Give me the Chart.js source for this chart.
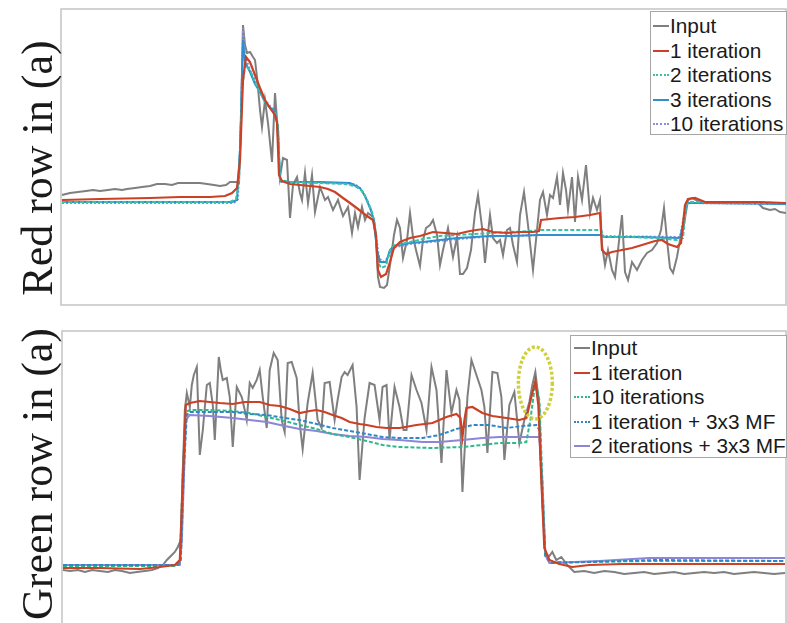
<!DOCTYPE html>
<html>
<head>
<meta charset="utf-8">
<script src="https://cdn.jsdelivr.net/npm/chart.js@4.4.1/dist/chart.umd.min.js"></script>
<style>
html, body { margin: 0; padding: 0; background: #fff; overflow: hidden; }
body { width: 787px; height: 623px; position: relative; }
.panel { position: absolute; left: 0; width: 787px; height: 310px; }
#topPanel { top: 0; }
#bottomPanel { top: 322px; }
.ytitle { position: absolute; width: 320px; height: 44px; line-height: 44px; text-align: center;
  font-family: "Liberation Serif", "Times New Roman", serif; font-size: 44px; color: #1a1a1a;
  transform: rotate(-90deg); white-space: nowrap; }
.legend { position: absolute; background: #fff; border: 1px solid #a6a6a6; box-sizing: border-box;
  font-family: "Liberation Sans", Arial, sans-serif; font-size: 20.8px; color: #1a1a1a; }
.legend .row { height: 24.5px; display: flex; align-items: center; white-space: nowrap; }
.legend .s { display: inline-block; width: 16px; height: 0; margin-right: 1px; }
</style>
</head>
<body>
<div class="panel" id="topPanel"><canvas id="topChart"></canvas></div>
<div class="panel" id="bottomPanel"><canvas id="bottomChart"></canvas></div>
<div class="ytitle" style="left:-122px; top:146px;">Red row in (a)</div>
<div class="ytitle" style="left:-122px; top:452px;">Green row in (a)</div>
<div class="legend" id="topLegend" style="left:650px; top:11px; width:137px; height:124px; padding:2px 0 0 2px;"></div>
<div class="legend" id="bottomLegend" style="left:570px; top:335px; width:217px; height:123px; padding:0 0 0 3px;"></div>
<script>
// column along the image row, and pixel intensity
const topNames = ['Input', '1 iteration', '2 iterations', '3 iterations', '10 iterations'];
const bottomNames = ['Input', '1 iteration', '10 iterations', '1 iteration + 3x3 MF', '2 iterations + 3x3 MF'];

// Red row
const redInput = [[1,110],[9,112],[17,113],[25,114],[32,115],[39,114],[47,115],[54,116],[61,115],[66,116],[74,117],[81,118],[89,119],[96,121],[104,121],[111,120],[117,122],[124,122],[131,122],[139,122],[146,121],[153,120],[159,119],[165,120],[169,123],[175,123],[178,122],[180,185],[182,280],[184,260],[186,252],[189,253],[192,248],[194,245],[196,228],[199,195],[201,178],[204,205],[207,182],[211,143],[214,212],[216,185],[219,128],[222,147],[226,145],[229,87],[232,120],[236,128],[239,112],[241,105],[244,132],[247,102],[251,130],[254,93],[259,118],[264,105],[267,108],[272,95],[277,105],[282,89],[287,98],[291,72],[294,92],[297,78],[301,98],[304,85],[307,92],[312,88],[315,65],[317,28],[319,18],[323,17],[326,20],[329,40],[333,70],[336,85],[339,77],[342,47],[346,65],[349,92],[352,68],[355,55],[359,39],[362,65],[365,77],[369,80],[372,85],[376,70],[379,40],[382,55],[387,77],[392,48],[396,68],[399,31],[402,31],[406,37],[410,55],[414,92],[417,110],[421,78],[424,42],[427,72],[429,90],[432,67],[436,62],[439,65],[442,50],[446,75],[449,77],[452,60],[456,43],[459,90],[463,113],[467,80],[472,35],[475,65],[479,105],[482,113],[486,90],[489,110],[492,107],[496,128],[499,100],[502,132],[505,115],[507,95],[511,128],[514,83],[517,128],[521,105],[525,140],[529,92],[532,107],[536,95],[539,105],[541,60],[544,40],[547,55],[551,35],[554,28],[557,55],[561,90],[564,33],[567,25],[571,43],[576,35],[581,45],[586,52],[591,55],[596,62],[600,75],[603,97],[606,65],[609,37],[612,32],[616,48],[619,65],[622,75],[627,105],[631,107],[639,103],[649,102],[659,103],[669,102],[679,103],[689,102],[696,103],[702,97],[709,95],[714,96],[719,93],[725,92]];
const redIter1 = [[1,105],[39,106],[89,107],[119,108],[149,108],[164,109],[171,112],[176,117],[179,145],[182,225],[185,248],[189,243],[194,230],[199,217],[204,205],[209,197],[214,190],[216,183],[218,130],[221,124],[229,121],[239,120],[249,119],[259,118],[267,116],[274,113],[282,107],[289,102],[297,96],[306,89],[312,85],[315,70],[317,35],[320,28],[325,31],[329,43],[333,57],[339,63],[349,67],[359,69],[372,73],[384,72],[396,71],[409,74],[422,76],[432,73],[446,72],[459,73],[472,73],[478,74],[480,85],[489,86],[499,87],[514,88],[529,90],[539,92],[541,55],[545,51],[551,53],[561,55],[571,57],[581,60],[594,64],[601,65],[607,61],[616,58],[620,62],[624,100],[627,106],[634,107],[644,103],[659,103],[699,103],[725,102]];
const redIter2 = [[1,103],[169,103],[175,106],[178,125],[181,215],[184,240],[189,235],[194,223],[199,213],[204,203],[209,197],[214,193],[217,180],[219,125],[229,123],[259,122],[284,121],[294,119],[301,114],[306,105],[311,93],[314,80],[317,43],[320,37],[325,39],[329,55],[334,60],[349,63],[362,66],[379,69],[396,70],[414,71],[429,72],[449,73],[469,74],[479,75],[540,75],[543,68],[569,68],[596,67],[616,65],[622,67],[625,100],[629,103],[725,102]];
const redIter3 = [[1,103],[171,103],[176,105],[179,155],[182,265],[184,243],[189,233],[194,221],[199,213],[204,203],[209,197],[214,195],[217,175],[219,124],[229,123],[259,123],[289,122],[299,117],[304,109],[309,97],[313,85],[316,55],[319,43],[325,43],[329,55],[333,59],[349,62],[362,63],[379,65],[396,67],[414,68],[429,69],[449,69],[479,70],[540,70],[543,68],[579,68],[619,67],[623,85],[625,102],[639,102],[725,101]];
const redIter10 = [[1,102],[173,102],[177,106],[180,185],[182,277],[184,250],[189,235],[194,225],[199,215],[204,205],[209,199],[214,195],[217,175],[219,123],[239,123],[269,122],[294,121],[301,115],[306,105],[311,93],[315,70],[318,47],[322,43],[327,47],[331,57],[349,61],[379,64],[409,67],[439,69],[479,70],[539,70],[543,69],[619,68],[623,90],[626,102],[725,101]];

// Green row
const greenInput = [[1,57],[8,56],[16,57],[23,55],[30,57],[38,56],[46,55],[53,57],[60,56],[68,54],[75,55],[83,56],[90,57],[96,59],[101,62],[105,67],[109,71],[113,75],[116,80],[119,87],[121,157],[123,217],[125,234],[128,220],[130,242],[132,252],[135,260],[138,172],[141,197],[145,242],[148,244],[151,222],[153,187],[155,227],[157,270],[159,257],[161,247],[165,249],[168,230],[171,180],[175,240],[180,230],[183,217],[185,207],[188,244],[191,239],[195,247],[198,257],[201,230],[205,199],[208,257],[212,274],[216,267],[220,207],[223,195],[226,264],[230,265],[235,249],[238,204],[241,178],[243,197],[246,224],[251,254],[256,207],[260,199],[263,244],[268,245],[273,207],[276,227],[280,250],[283,255],[286,252],[291,262],[295,220],[298,147],[303,209],[308,244],[313,242],[318,207],[321,240],[325,242],[328,187],[333,240],[338,220],[342,197],[345,197],[350,252],[355,237],[360,224],[365,197],[370,260],[375,237],[380,164],[385,257],[390,214],[395,237],[398,227],[401,135],[406,230],[410,267],[415,252],[420,237],[423,220],[426,174],[431,255],[436,254],[440,230],[443,167],[448,222],[453,235],[458,184],[463,207],[468,225],[471,242],[474,255],[478,222],[481,127],[484,72],[488,71],[491,75],[495,67],[500,70],[506,62],[513,55],[523,56],[533,54],[543,56],[553,55],[563,53],[573,54],[583,55],[593,53],[603,54],[613,55],[623,53],[633,54],[643,55],[653,54],[663,55],[673,53],[683,54],[693,55],[703,54],[713,53],[724,54]];
const greenIter1 = [[1,59],[38,59],[78,58],[98,60],[113,62],[118,67],[121,147],[124,222],[128,224],[138,226],[148,225],[158,224],[171,223],[183,225],[198,225],[208,222],[218,221],[228,218],[238,214],[248,216],[255,217],[263,215],[271,212],[280,209],[288,205],[298,203],[305,202],[315,200],[325,199],[338,199],[355,202],[371,204],[385,210],[395,213],[399,209],[401,190],[403,207],[405,219],[411,220],[421,214],[431,211],[445,209],[458,207],[465,209],[470,230],[474,246],[477,222],[480,147],[483,79],[488,67],[498,63],[511,60],[528,62],[561,63],[638,63],[724,63]];
const greenIter10 = [[1,61],[113,61],[118,64],[121,157],[124,215],[128,217],[148,217],[171,216],[188,214],[205,210],[223,206],[238,202],[255,198],[271,193],[288,190],[305,186],[321,182],[338,180],[371,179],[401,180],[421,182],[438,184],[458,184],[465,185],[469,207],[473,237],[475,242],[478,227],[481,147],[484,72],[490,65],[518,65],[588,66],[724,66]];
const greenIter1MF = [[1,62],[116,62],[119,67],[122,157],[125,212],[128,215],[171,215],[188,213],[205,212],[223,209],[238,207],[255,203],[271,199],[288,196],[305,193],[321,190],[338,189],[361,189],[378,192],[395,198],[411,202],[428,202],[445,199],[461,201],[475,202],[478,197],[481,127],[484,71],[490,64],[528,65],[595,67],[724,66]];
const greenIter2MF = [[1,62],[118,62],[120,87],[124,207],[128,212],[148,211],[171,209],[188,207],[205,205],[223,201],[238,198],[255,196],[271,193],[288,191],[305,190],[321,188],[338,187],[361,185],[378,185],[401,187],[421,189],[438,190],[478,190],[481,147],[484,72],[488,64],[538,66],[588,69],[724,69]];

// circled overshoot in the green row
const highlight = { x: 474, y: 244, rx: 17, ry: 36 };

const topStyles = [
  { color: '#7f7f7f', dash: [], width: 2, order: 9, css: 'solid' },
  { color: '#cc4125', dash: [], width: 2.2, order: 1, css: 'solid' },
  { color: '#36c3a6', dash: [4, 2], width: 2, order: 2, css: 'dotted' },
  { color: '#2f8fd0', dash: [], width: 2, order: 3, css: 'solid' },
  { color: '#8b8fd8', dash: [2, 2], width: 2, order: 4, css: 'dotted' }
];
const bottomStyles = [
  { color: '#7f7f7f', dash: [], width: 2, order: 9, css: 'solid' },
  { color: '#cc4125', dash: [], width: 2.2, order: 1, css: 'solid' },
  { color: '#2fb88a', dash: [4, 2], width: 2, order: 3, css: 'dotted' },
  { color: '#2f87c6', dash: [4, 2], width: 2, order: 2, css: 'dotted' },
  { color: '#8d86d6', dash: [], width: 2, order: 4, css: 'solid' }
];

const framePlugin = {
  id: 'frame',
  beforeDatasetsDraw(chart) {
    const a = chart.chartArea, ctx = chart.ctx;
    ctx.save();
    ctx.strokeStyle = '#c4c4c4';
    ctx.lineWidth = 1.5;
    ctx.strokeRect(a.left, a.top, a.right - a.left, a.bottom - a.top);
    ctx.restore();
  }
};

const ellipsePlugin = {
  id: 'ellipse',
  afterDatasetsDraw(chart) {
    const xs = chart.scales.x, ys = chart.scales.y, ctx = chart.ctx;
    const cx = xs.getPixelForValue(highlight.x);
    const cy = ys.getPixelForValue(highlight.y);
    const rx = Math.abs(xs.getPixelForValue(highlight.x + highlight.rx) - cx);
    const ry = Math.abs(ys.getPixelForValue(highlight.y + highlight.ry) - cy);
    ctx.save();
    ctx.setLineDash([3, 2]);
    ctx.lineWidth = 3.5;
    ctx.strokeStyle = '#cfcf3c';
    ctx.beginPath();
    ctx.ellipse(cx, cy, rx, ry, 0, 0, 2 * Math.PI);
    ctx.stroke();
    ctx.restore();
  }
};

function makeChart(id, names, series, styles, padLeft, plugins) {
  const datasets = series.map((s, i) => ({
    label: names[i],
    data: s.map(p => ({ x: p[0], y: p[1] })),
    borderColor: styles[i].color,
    borderWidth: styles[i].width,
    borderDash: styles[i].dash,
    order: styles[i].order,
    pointRadius: 0,
    tension: 0,
    fill: false
  }));
  return new Chart(document.getElementById(id), {
    type: 'line',
    data: { datasets: datasets },
    options: {
      responsive: true,
      maintainAspectRatio: false,
      animation: false,
      layout: { padding: { left: padLeft, top: 9, right: 1, bottom: 5 } },
      plugins: { legend: { display: false }, tooltip: { enabled: false } },
      scales: {
        x: { type: 'linear', min: 0, max: 725, display: false },
        y: { min: 0, max: 296, display: false }
      }
    },
    plugins: plugins
  });
}

function buildLegend(id, names, styles) {
  const box = document.getElementById(id);
  names.forEach((n, i) => {
    const row = document.createElement('div');
    row.className = 'row';
    const s = document.createElement('span');
    s.className = 's';
    s.style.borderTop = '2px ' + styles[i].css + ' ' + styles[i].color;
    row.appendChild(s);
    row.appendChild(document.createTextNode(n));
    box.appendChild(row);
  });
}

makeChart('topChart', topNames, [redInput, redIter1, redIter2, redIter3, redIter10], topStyles, 61, [framePlugin]);
makeChart('bottomChart', bottomNames, [greenInput, greenIter1, greenIter10, greenIter1MF, greenIter2MF], bottomStyles, 62, [framePlugin, ellipsePlugin]);
buildLegend('topLegend', topNames, topStyles);
buildLegend('bottomLegend', bottomNames, bottomStyles);
</script>
</body>
</html>
